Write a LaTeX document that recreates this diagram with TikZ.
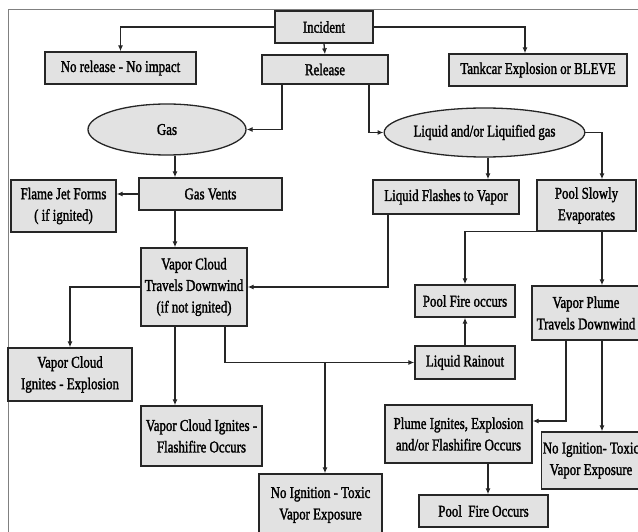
\documentclass[tikz,border=0pt]{standalone}
\usepackage{fontspec}
\setmainfont{Liberation Serif}[FakeStretch=0.78,FakeBold=1.6]
\usetikzlibrary{shapes.geometric,arrows.meta}
\definecolor{grisboite}{RGB}{226,226,226}
\definecolor{traitnoir}{RGB}{38,38,38}

\begin{document}
\begin{tikzpicture}[x=1pt, y=-1pt]
 \tikzstyle{caisse}=[rectangle, draw=traitnoir, fill=grisboite, line width=1.3pt, align=center, inner sep=1pt, text=black, font=\fontsize{16.5}{21.5}\selectfont]
 \tikzstyle{bulle}=[ellipse, draw=traitnoir, fill=grisboite, line width=1.3pt, align=center, inner sep=0pt, text=black, font=\fontsize{16.5}{21.5}\selectfont]
 \tikzstyle{fleche}=[->, >={Latex[length=6pt,width=5pt]}, line width=1.3pt, draw=traitnoir]
 \useasboundingbox (0,0) rectangle (638,532);
 \draw[gray, line width=1pt] (8,532) -- (8,10) -- (638,10);
 %
 \coordinate (colA) at (175,0);
 \coordinate (colB) at (488,0);
 \coordinate (colD) at (602,0);
 %
 \node[caisse, minimum width=98, minimum height=32] (Inc) at (324,27) {Incident};
 \node[caisse, minimum width=151, minimum height=32] (NoRel) at (120.5,68) {No release - No impact};
 \node[caisse, minimum width=126, minimum height=29] (Rel) at (325,69.5) {Release};
 \node[caisse, minimum width=178, minimum height=32] (Bleve) at (538,70) {Tankcar Explosion or BLEVE};
 %
 \node[bulle, minimum width=158, minimum height=51] (Gas) at (167,129.5) {Gas};
 \node[bulle, minimum width=163, minimum height=49] (Liq) at (484.5,132.5) {Liquid and/or Liquified gas};
 %
 \node[caisse, minimum width=143, minimum height=32] (Vents) at (210.5,194) {Gas Vents};
 \node[caisse, minimum width=105, minimum height=52] (Flame) at (63.5,206) {Flame Jet Forms\\( if ignited)};
 \node[caisse, minimum width=146, minimum height=34] (Flash) at (446,197) {Liquid Flashes to Vapor};
 \node[caisse, minimum width=99, minimum height=51] (PoolEv) at (586.5,205.5) {Pool Slowly\\Evaporates};
 %
 \node[caisse, minimum width=106, minimum height=78] (Cloud) at (194,287) {Vapor Cloud\\Travels Downwind\\(if not ignited)};
 \node[caisse, minimum width=100, minimum height=32] (PoolFire) at (465,301) {Pool Fire occurs};
 \node[caisse, minimum width=108, minimum height=54] (Plume) at (586,313) {Vapor Plume\\Travels Downwind};
 %
 \node[caisse, minimum width=124, minimum height=53] (CloudEx) at (70,374.5) {Vapor Cloud\\Ignites - Explosion};
 \node[caisse, minimum width=100, minimum height=33] (Rainout) at (465,362.5) {Liquid Rainout};
 \node[caisse, minimum width=121, minimum height=60] (Flashfire) at (201.5,436) {Vapor Cloud Ignites -\\Flashifire Occurs};
 \node[caisse, minimum width=147, minimum height=58] (PlumeIg) at (458.5,434) {Plume Ignites, Explosion\\and/or Flashifire Occurs};
 \node[caisse, minimum width=96, minimum height=57] (ToxR) at (591,460.5) {No Ignition- Toxic\\Vapor Exposure};
 \node[caisse, minimum width=123, minimum height=62] (ToxM) at (320.5,505) {No Ignition - Toxic\\Vapor Exposure};
 \node[caisse, minimum width=129, minimum height=32] (PoolFire2) at (483.5,511) {Pool\ \ Fire Occurs};
 %%
 \draw[fleche] (Inc.west) -| (NoRel.north);
 \draw[fleche] (Inc.east) -| ([xshift=-13pt]Bleve.north);
 \draw[fleche] (Inc.south) -- (Rel.north);
 \draw[fleche] ([xshift=-43pt]Rel.south) |- (Gas.east);
 \draw[fleche] ([xshift=44pt]Rel.south) |- (Liq.west);
 \draw[fleche] (colA |- Gas.south) -- (colA |- Vents.north);
 \draw[fleche] (Vents.west) -- (Vents.west -| Flame.east);
 \draw[fleche] (colA |- Vents.south) -- (colA |- Cloud.north);
 \draw[fleche] (colB |- Liq.south) -- (colB |- Flash.north);
 \draw[fleche] (Liq.east) -| (colD |- PoolEv.north);
 \draw[fleche] ([xshift=-58pt]Flash.south) |- (Cloud.east);
 \draw[fleche] (Cloud.west) -| (CloudEx.north);
 \draw[fleche] (colA |- Cloud.south) -- (colA |- Flashfire.north);
 \draw[fleche] ([xshift=31pt]Cloud.south) |- (Rainout.west);
 \coordinate (J) at (325,362.5);
 \draw[fleche] (J) -- (J |- ToxM.north);
 \draw[fleche] (PoolEv.south west) -| (PoolFire.north);
 \draw[fleche] (colD |- PoolEv.south) -- (colD |- Plume.north);
 \draw[fleche] (Rainout.north) -- (PoolFire.south);
 \draw[fleche] ([xshift=-20pt]Plume.south) |- ([yshift=13pt]PlumeIg.east);
 \draw[fleche] (colD |- Plume.south) -- (colD |- ToxR.north);
 \draw[fleche] (colB |- PlumeIg.south) -- (colB |- PoolFire2.north);
\end{tikzpicture}
\end{document}
